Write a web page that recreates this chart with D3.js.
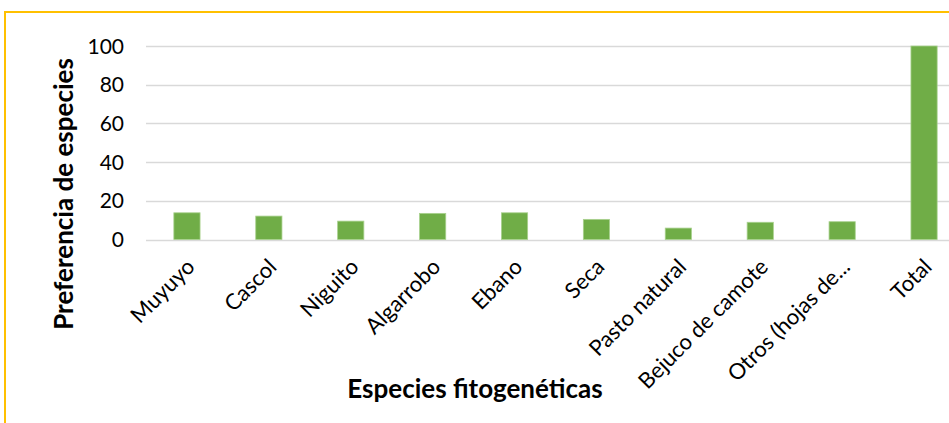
<!DOCTYPE html>
<html>
<head>
<meta charset="utf-8">
<script src="https://cdn.jsdelivr.net/npm/d3@7"></script>
<style>
  body { margin: 0; background: #fff; }
  text { font-family: Lato, "Open Sans", sans-serif; fill: #000; }
</style>
</head>
<body>
<div id="canvas"></div>
<script>
// chart data
var categories = ['Muyuyo', 'Cascol', 'Niguito', 'Algarrobo', 'Ebano', 'Seca',
    'Pasto natural', 'Bejuco de camote', 'Otros (hojas de...', 'Total'];
var values = [13.8, 12.1, 9.5, 13.5, 13.8, 10.4, 5.9, 8.9, 9.2, 100];
var yTicks = [0, 20, 40, 60, 80, 100];

var W = 949, H = 423;
var m = {t: 46, r: -16, b: 183, l: 146};  // plot runs past right edge like the original

var svg = d3.select('#canvas').append('svg')
    .attr('width', W).attr('height', H);

// yellow chart frame (cut off at right/bottom)
svg.append('rect')
    .attr('x', 5).attr('y', 12)
    .attr('width', W + 20).attr('height', H + 20)
    .style('fill', 'none').style('stroke', '#FFC000').style('stroke-width', 2);

var x = d3.scaleBand()
    .domain(categories)
    .range([m.l, W - m.r])
    .paddingInner(0.68)
    .paddingOuter(0.34);

var y = d3.scaleLinear()
    .domain([0, 100])
    .range([H - m.b - 0.5, m.t]);

// gridlines
svg.append('g').selectAll('line')
    .data(yTicks).enter()
    .append('line')
    .attr('x1', m.l).attr('x2', W - m.r)
    .attr('y1', function(d){ return Math.round(y(d)) + 0.5; })
    .attr('y2', function(d){ return Math.round(y(d)) + 0.5; })
    .style('stroke', '#d9d9d9').style('stroke-width', 1.5);

// y tick labels
svg.append('g').selectAll('text')
    .data(yTicks).enter()
    .append('text')
    .attr('x', 124)
    .attr('y', function(d){ return y(d); })
    .attr('dy', '0.36em')
    .attr('text-anchor', 'end')
    .style('font-size', '21px')
    .text(function(d){ return d; });

// bars
svg.append('g').selectAll('rect')
    .data(values).enter()
    .append('rect')
    .attr('x', function(d, i){ return x(categories[i]); })
    .attr('width', x.bandwidth())
    .attr('y', function(d){ return y(d); })
    .attr('height', function(d){ return y(0) - y(d); })
    .style('fill', '#70AD47')
    .style('stroke', '#a9d18e').style('stroke-width', 0.8);

// rotated category labels
svg.append('g').selectAll('text')
    .data(categories).enter()
    .append('text')
    .attr('transform', function(d){
        var cx = x(d) + x.bandwidth() / 2 - 2;
        return 'translate(' + cx + ',' + 257 + ') rotate(-45)';
    })
    .attr('text-anchor', 'end')
    .attr('dy', '0.72em')
    .style('font-size', '22px')
    .text(function(d){ return d; });

// axis titles
svg.append('text')
    .attr('transform', 'translate(73,194) rotate(-90)')
    .attr('text-anchor', 'middle')
    .style('font-size', '26px').style('font-weight', 'bold')
    .text('Preferencia de especies');

svg.append('text')
    .attr('x', 475).attr('y', 398)
    .attr('text-anchor', 'middle')
    .style('font-size', '26px').style('font-weight', 'bold')
    .text('Especies fitogenéticas');
</script>
</body>
</html>
